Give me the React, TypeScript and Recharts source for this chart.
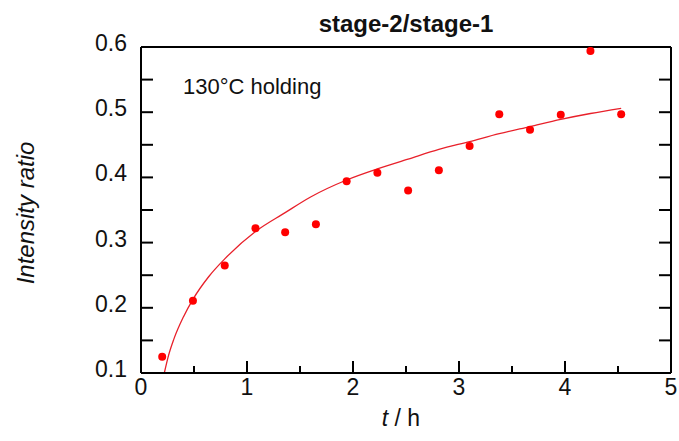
import { ComposedChart, Label, Line, Scatter, XAxis, YAxis } from "recharts";

const hours = [0.2, 0.49, 0.79, 1.08, 1.36, 1.65, 1.94, 2.23, 2.52, 2.81, 3.1, 3.38, 3.67, 3.96, 4.24, 4.53];
const ratio = [0.125, 0.211, 0.265, 0.322, 0.316, 0.328, 0.394, 0.407, 0.38, 0.411, 0.448, 0.497, 0.473, 0.496, 0.594, 0.497];

const fitHours = [0.22, 0.26, 0.31, 0.4, 0.49, 0.64, 0.79, 1.08, 1.36, 1.6, 1.94, 2.23, 2.52, 2.81, 3.1, 3.38, 3.67, 3.96, 4.24, 4.53];
const fitRatio = [0.1, 0.127, 0.152, 0.186, 0.213, 0.248, 0.275, 0.317, 0.346, 0.37, 0.396, 0.413, 0.428, 0.443, 0.455, 0.467, 0.478, 0.489, 0.498, 0.506];

const xTicks = [0, 0.5, 1, 1.5, 2, 2.5, 3, 3.5, 4, 4.5, 5];
const yTicks = [0.1, 0.15, 0.2, 0.25, 0.3, 0.35, 0.4, 0.45, 0.5, 0.55, 0.6];

const font = "'Liberation Sans', Arial, sans-serif";
const red = "#ff0000";

const points = hours.map((x, i) => ({ x, y: ratio[i] }));
const fit = fitHours.map((x, i) => ({ x, y: fitRatio[i] }));

const isMajorX = (v: number) => Math.abs(v - Math.round(v)) < 1e-6;
const isMajorY = (v: number) => Math.round(v * 100) % 10 === 0;

function BottomTick(props: any) {
  const { x, y, payload } = props;
  const major = isMajorX(payload.value);
  return (
    <g>
      <line x1={x} x2={x} y1={y} y2={y - (major ? 12 : 7)} stroke="#000" strokeWidth={2} />
      {major && (
        <text x={x} y={y + 22} textAnchor="middle" fontSize={23} fontFamily={font} fill="#111">
          {payload.value}
        </text>
      )}
    </g>
  );
}

function TopTick(props: any) {
  const { x, y, payload } = props;
  const major = isMajorX(payload.value);
  return <line x1={x} x2={x} y1={y} y2={y + (major ? 12 : 7)} stroke="#000" strokeWidth={2} />;
}

function LeftTick(props: any) {
  const { x, y, payload } = props;
  return (
    <g>
      <line x1={x} x2={x + 12} y1={y} y2={y} stroke="#000" strokeWidth={2} />
      {isMajorY(payload.value) && (
        <text x={x - 14} y={y + 4} textAnchor="end" fontSize={23} fontFamily={font} fill="#111">
          {payload.value.toFixed(1)}
        </text>
      )}
    </g>
  );
}

function RightTick(props: any) {
  const { x, y } = props;
  return <line x1={x} x2={x - 12} y1={y} y2={y} stroke="#000" strokeWidth={2} />;
}

function XTitle(props: any) {
  const vb = props.viewBox;
  return (
    <text x={vb.x + vb.width / 2 - 5} y={vb.y + 53} textAnchor="middle" fontSize={23} fontFamily={font} fill="#111">
      <tspan fontStyle="italic">t</tspan> / h
    </text>
  );
}

function TopTitle(props: any) {
  const vb = props.viewBox;
  const top = vb.y + vb.height;
  return (
    <g>
      <text x={vb.x + vb.width / 2} y={top - 15} textAnchor="middle" fontSize={24} fontWeight="bold" fontFamily={font} fill="#111">
        stage-2/stage-1
      </text>
      <text x={vb.x + 42} y={top + 47} fontSize={22} fontFamily={font} fill="#111">
        130°C holding
      </text>
    </g>
  );
}

function YTitle(props: any) {
  const vb = props.viewBox;
  const cx = vb.x + 34;
  const cy = vb.y + vb.height / 2 + 3;
  return (
    <text x={cx} y={cy} transform={`rotate(-90, ${cx}, ${cy})`} textAnchor="middle" fontSize={24} fontStyle="italic" fontFamily={font} fill="#111">
      Intensity ratio
    </text>
  );
}

export default function App() {
  return (
    <div style={{ position: "absolute", left: 0, top: 0, width: 679, height: 441, background: "#fff" }}>
      <ComposedChart width={679} height={441} margin={{ top: 46, right: 7, bottom: 67, left: 0 }}>
        <XAxis xAxisId="b" type="number" dataKey="x" domain={[0, 5]} ticks={xTicks} height={1} tickSize={0} tickMargin={0} tickLine={false} axisLine={{ stroke: "#000", strokeWidth: 2 }} tick={<BottomTick />} interval={0}>
          <Label content={<XTitle />} />
        </XAxis>
        <XAxis xAxisId="t" orientation="top" type="number" dataKey="x" domain={[0, 5]} ticks={xTicks} height={1} tickSize={0} tickMargin={0} tickLine={false} axisLine={{ stroke: "#000", strokeWidth: 2 }} tick={<TopTick />} interval={0}>
          <Label content={<TopTitle />} />
        </XAxis>
        <YAxis yAxisId="l" type="number" domain={[0.1, 0.6]} ticks={yTicks} width={141} allowDataOverflow tickSize={0} tickMargin={0} tickLine={false} axisLine={{ stroke: "#000", strokeWidth: 2 }} tick={<LeftTick />} interval={0}>
          <Label content={<YTitle />} />
        </YAxis>
        <YAxis yAxisId="r" orientation="right" type="number" domain={[0.1, 0.6]} ticks={yTicks} width={1} allowDataOverflow tickSize={0} tickMargin={0} tickLine={false} axisLine={{ stroke: "#000", strokeWidth: 2 }} tick={<RightTick />} interval={0} />
        <Line xAxisId="b" yAxisId="l" data={fit} dataKey="y" type="monotone" stroke="#e8202a" strokeWidth={1.3} dot={false} activeDot={false} isAnimationActive={false} />
        <Scatter xAxisId="b" yAxisId="l" data={points} dataKey="y" fill={red} isAnimationActive={false} shape={(p: any) => <circle cx={p.cx} cy={p.cy} r={4} fill={red} />} />
      </ComposedChart>
    </div>
  );
}
